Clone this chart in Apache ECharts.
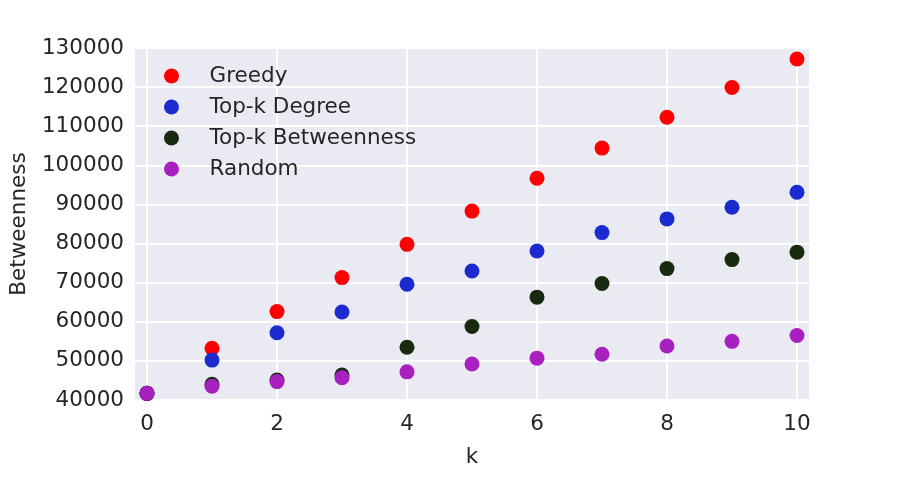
<!DOCTYPE html>
<html lang="en">
<head>
    <meta charset="UTF-8">
    <title>Betweenness vs k</title>
    <script src="https://cdn.jsdelivr.net/npm/echarts@6/dist/echarts.min.js"></script>
    <style>
        body { margin: 0; background: #fff; }
    </style>
</head>
<body>
    <div id="chart1" style="width:900px;height:480px;"></div>
</body>
<script type="text/javascript">
    // k values and betweenness
    var ks = [0, 1, 2, 3, 4, 5, 6, 7, 8, 9, 10]
    var greedy      = [41700, 53200, 62600, 71300, 79800, 88300, 96700, 104400, 112300, 119900, 127200]
    var topDegree   = [41700, 50200, 57200, 62500, 69600, 73000, 78100, 82800, 86300, 89300, 93100]
    var topBetween  = [41700, 44000, 45100, 46400, 53500, 58800, 66300, 69800, 73600, 75900, 77800]
    var randomSel   = [41700, 43500, 44700, 45700, 47200, 49200, 50700, 51700, 53800, 55000, 56500]

    var names = ['Greedy', 'Top-k Degree', 'Top-k Betweenness', 'Random']
    var colors = ['#ff0000', '#1b2bd0', '#182a0f', '#a820bf']
    var values = [greedy, topDegree, topBetween, randomSel]

    function pairs(ys) {
        return ks.map(function (k, i) { return [k, ys[i]] })
    }

    var font = 'DejaVu Sans'
    var fs = 21.5
    var textCol = '#262626'

    var chart = echarts.init(document.getElementById('chart1'))
    var option = {
        animation: false,
        grid: {
            left: 132, right: 90, top: 48, bottom: 80,
            show: true, backgroundColor: '#eaeaf2', borderWidth: 0
        },
        legend: {
            orient: 'vertical',
            left: 159,
            top: 60,
            icon: 'circle',
            itemWidth: 66,
            itemHeight: 15,
            itemGap: 9,
            textStyle: { fontFamily: font, fontSize: fs, color: textCol, lineHeight: 21 },
            data: names
        },
        xAxis: {
            type: 'value',
            min: -0.2,
            max: 10.2,
            splitNumber: 5,
            name: 'k',
            nameLocation: 'middle',
            nameGap: 46,
            nameTextStyle: { fontFamily: font, fontSize: fs, color: textCol },
            axisLine: { show: false },
            axisTick: { show: false },
            axisLabel: {
                fontFamily: font, fontSize: fs, color: textCol, margin: 13,
                showMinLabel: false, showMaxLabel: false
            },
            splitLine: { show: true, lineStyle: { color: '#ffffff', width: 2 } }
        },
        yAxis: {
            type: 'value',
            min: 40000,
            max: 130000,
            interval: 10000,
            name: 'Betweenness',
            nameLocation: 'middle',
            nameGap: 104,
            nameTextStyle: { fontFamily: font, fontSize: fs, color: textCol },
            axisLine: { show: false },
            axisTick: { show: false },
            axisLabel: {
                fontFamily: font, fontSize: fs, color: textCol, margin: 10,
                formatter: function (v) { return String(v) }
            },
            splitLine: { show: true, lineStyle: { color: '#ffffff', width: 2 } }
        },
        series: names.map(function (n, i) {
            return {
                name: n,
                type: 'scatter',
                symbol: 'circle',
                symbolSize: 15,
                itemStyle: { color: colors[i], opacity: 1 },
                data: pairs(values[i])
            }
        })
    }
    chart.setOption(option)
</script>
</html>
